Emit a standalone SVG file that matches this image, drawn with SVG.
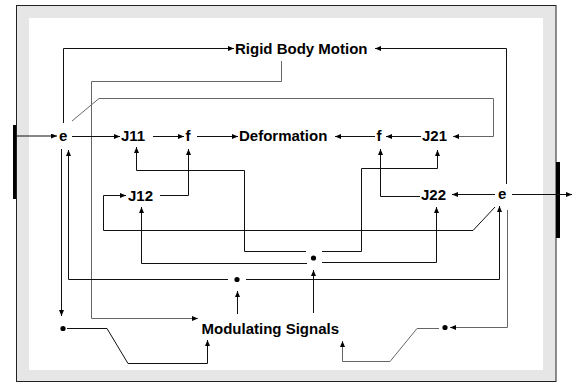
<svg xmlns="http://www.w3.org/2000/svg" width="574" height="383" viewBox="0 0 574 383">
<style>
.lbl{font-family:"Liberation Sans",Arial,sans-serif;font-weight:bold;font-size:15px;fill:#000}
.c{fill:none;stroke:#111;stroke-width:1}
.g{fill:none;stroke:#666;stroke-width:1}
.a{marker-end:url(#ah)}
</style>
<defs>
<marker id="ah" markerUnits="userSpaceOnUse" viewBox="0 0 6 5" refX="6" refY="2.5" markerWidth="6" markerHeight="5" orient="auto">
<path d="M0,0 L6,2.5 L0,5 Z" fill="#000"/>
</marker>
</defs>
<rect x="0" y="0" width="574" height="383" fill="#fff"/>
<rect id="frame" x="16.5" y="5.5" width="539.5" height="376" fill="#e6e6e6" stroke="#222" stroke-width="1"/>
<rect x="29" y="18" width="514" height="352" fill="#fff"/>
<rect id="leftbar" x="13" y="125" width="3" height="74" fill="#000"/>
<rect id="rightbar" x="556" y="162" width="4" height="76" fill="#000"/>

<g id="connectors">
<path class="c a" d="M16,136 H57"/>
<path class="c a" d="M63.5,123 V48.5 H234"/>
<path class="c a" d="M506.5,184 V48.5 H375"/>
<path class="g a" d="M281.5,61 V81.5 H91.5 V318.5 H198"/>
<path class="g a" d="M72,121 L99,98.5 H493.5 V136.5 H453"/>
<path class="c a" d="M72,136.5 H120"/>
<path class="c a" d="M153,136.5 H184"/>
<path class="c a" d="M197,136.5 H238"/>
<path class="c a" d="M375,136.5 H335"/>
<path class="c a" d="M421,136.5 H386"/>
<path class="c a" d="M160,195.5 H188.5 V149"/>
<path class="c a" d="M420,196.5 H380.5 V149"/>
<path class="c a" d="M495,194.5 H452"/>
<path class="c a" d="M512,194.5 H572"/>
<path class="c a" d="M495,207 L473,230.5 H103.5 V195.5 H126"/>
<path class="c a" d="M306,251.5 H244.5 V170.5 H136.5 V147"/>
<path class="c a" d="M307,263.5 H141.5 V207"/>
<path class="c a" d="M322,251.5 H361.5 V168.5 H437.5 V150"/>
<path class="c a" d="M322,262.5 H436.5 V207"/>
<path class="c a" d="M313.5,313 V270"/>
<path class="c a" d="M228,279.5 H68.5 V150"/>
<path class="c a" d="M246,279.5 H499.5 V206"/>
<path class="c a" d="M237.5,314 V291"/>
<path class="c a" d="M61.5,149 V316"/>
<path class="c a" d="M67,328.5 H107 L128,363.5 H207.5 V340"/>
<path class="g a" d="M507.5,210 V327.5 H450"/>
<path class="g a" d="M439,328.5 H417 L390,361.5 H342.5 V341"/>
</g>

<g id="rigid"><text class="lbl" x="235" y="54">Rigid Body Motion</text></g>
<g id="deformation"><text class="lbl" x="239" y="141">Deformation</text></g>
<g id="modulating"><text class="lbl" x="201.5" y="333.5">Modulating Signals</text></g>
<g id="e1"><text class="lbl" x="59" y="141">e</text></g>
<g id="e2"><text class="lbl" x="498" y="199">e</text></g>
<g id="j11"><text class="lbl" x="121" y="141">J11</text></g>
<g id="j12"><text class="lbl" x="128" y="200.5">J12</text></g>
<g id="j21"><text class="lbl" x="422" y="141">J21</text></g>
<g id="j22"><text class="lbl" x="421" y="200">J22</text></g>
<g id="f1"><text class="lbl" x="185.5" y="141">f</text></g>
<g id="f2"><text class="lbl" x="376.5" y="141">f</text></g>
<g id="dot1"><circle cx="63" cy="328.5" r="2.6" fill="#000"/></g>
<g id="dot2"><circle cx="237" cy="279.5" r="2.6" fill="#000"/></g>
<g id="dot3"><circle cx="313.5" cy="258" r="2.6" fill="#000"/></g>
<g id="dot4"><circle cx="445" cy="327.5" r="2.6" fill="#000"/></g>
</svg>
